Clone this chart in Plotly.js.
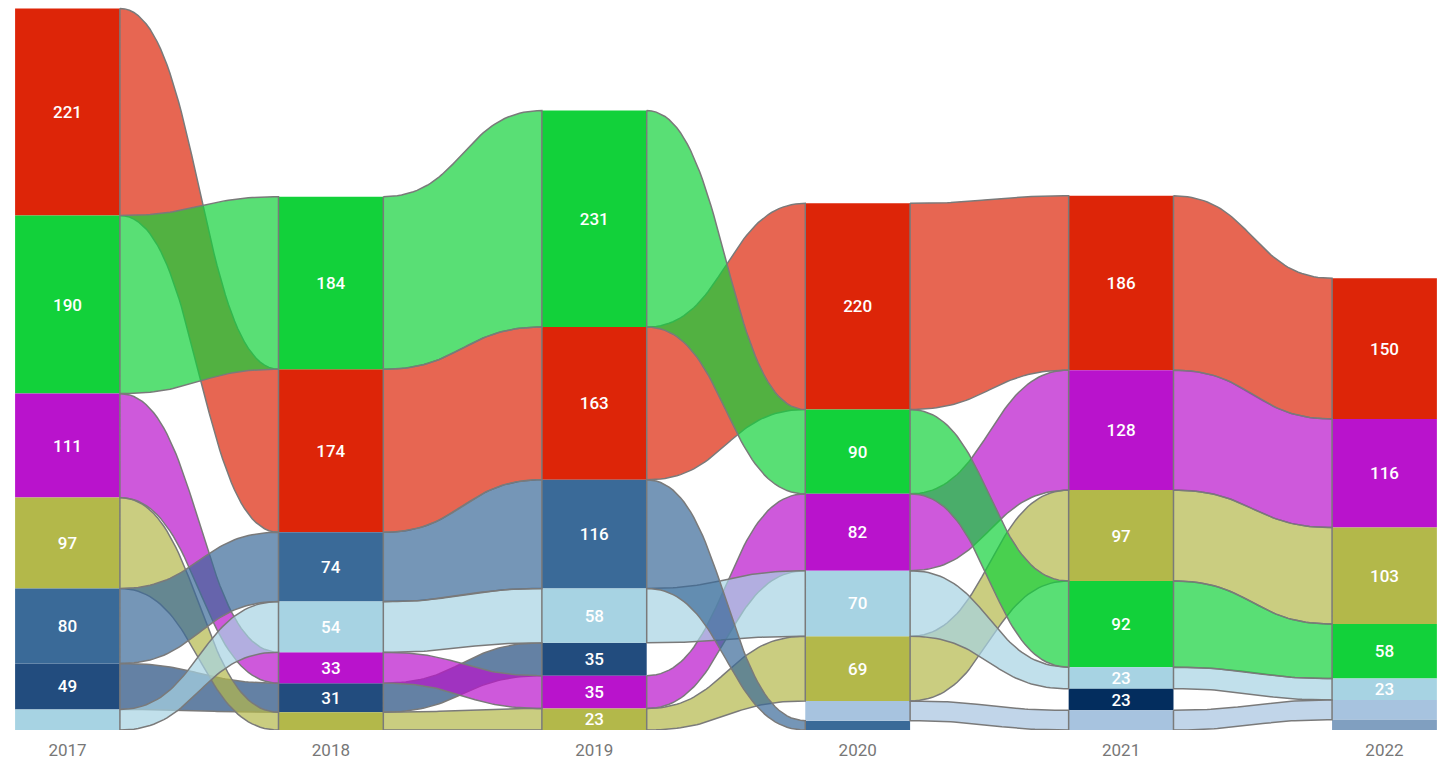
<!DOCTYPE html>
<html>
<head>
<meta charset="utf-8">
<script src="https://cdn.plot.ly/plotly-3.0.1.min.js"></script>
<style>html,body{margin:0;padding:0;background:#fff;}#chart{width:1445px;height:760px;}</style>
</head>
<body>
<div id="chart"></div>
<script>
// ---- data ----
const years = ['2017', '2018', '2019', '2020', '2021', '2022'];
// category order also resolves ties in stacking
const categories = ['Red', 'Green', 'Navy', 'Purple', 'Olive', 'Steel', 'LightBlue', 'DarkNavy', 'PaleBlue', 'GreyBlue'];
const red       = [221, 174, 163, 220, 186, 150];
const green     = [190, 184, 231, 90, 92, 58];
const navy      = [49, 31, 35, null, null, null];
const purple    = [111, 33, 35, 82, 128, 116];
const olive     = [97, 19, 23, 69, 97, 103];
const steel     = [80, 74, 116, 10, null, null];
const lightBlue = [22, 54, 58, 70, 23, 23];
const darkNavy  = [null, null, null, null, 23, null];
const paleBlue  = [null, null, null, 21, 21, 21];
const greyBlue  = [null, null, null, null, null, 11];
const seriesValues = [red, green, navy, purple, olive, steel, lightBlue, darkNavy, paleBlue, greyBlue];
const colors = ['#DD2508', '#12D13A', '#224C7E', '#B913CC', '#B3B84A', '#3A6A98', '#A7D3E3', '#032D5E', '#A7C3DF', '#809FC0'];
// ribbon drawing order (later = on top)
const ribbonOrder = ['Navy', 'Red', 'Olive', 'Purple', 'LightBlue', 'PaleBlue', 'Steel', 'Green'];

// ---- layout of columns (computed stacking) ----
const barW = 0.398;
const nY = years.length, nC = categories.length;
const bases = seriesValues.map(() => new Array(nY).fill(null));
for (let j = 0; j < nY; j++) {
  const idx = [];
  for (let c = 0; c < nC; c++) if (seriesValues[c][j] != null) idx.push(c);
  idx.sort((a, b) => seriesValues[b][j] - seriesValues[a][j] || a - b);
  let total = idx.reduce((s, c) => s + seriesValues[c][j], 0);
  let top = total;
  idx.forEach(c => { const v = seriesValues[c][j]; bases[c][j] = top - v; top -= v; });
}

function rgba(hex, a) {
  const n = parseInt(hex.slice(1), 16);
  return `rgba(${(n >> 16) & 255},${(n >> 8) & 255},${n & 255},${a})`;
}
function bez(p0, p1, p2, p3, t) {
  const u = 1 - t;
  return u*u*u*p0 + 3*u*u*t*p1 + 3*u*t*t*p2 + t*t*t*p3;
}

const traces = [];
// ribbons
ribbonOrder.forEach(name => {
  const c = categories.indexOf(name);
  const vals = seriesValues[c];
  for (let j = 0; j < nY - 1; j++) {
    if (vals[j] == null || vals[j + 1] == null) continue;
    const x0 = j + barW / 2, x1 = j + 1 - barW / 2, xm = (x0 + x1) / 2;
    const t0 = bases[c][j] + vals[j], b0 = bases[c][j];
    const t1 = bases[c][j + 1] + vals[j + 1], b1 = bases[c][j + 1];
    const xs = [], ys = [];
    const N = 48;
    for (let k = 0; k <= N; k++) {
      const t = k / N;
      xs.push(bez(x0, xm, xm, x1, t)); ys.push(bez(t0, t0, t1, t1, t));
    }
    for (let k = N; k >= 0; k--) {
      const t = k / N;
      xs.push(bez(x0, xm, xm, x1, t)); ys.push(bez(b0, b0, b1, b1, t));
    }
    xs.push(xs[0]); ys.push(ys[0]);
    traces.push({
      type: 'scatter', mode: 'lines', x: xs, y: ys, fill: 'toself',
      fillcolor: rgba(colors[c], 0.7),
      line: {color: '#7a7a7a', width: 1.5, shape: 'linear'},
      hoverinfo: 'skip', showlegend: false
    });
  }
});

// column segments
categories.forEach((name, c) => {
  const xs = [], ys = [], bs = [], txt = [];
  seriesValues[c].forEach((v, j) => {
    if (v == null) return;
    xs.push(j); ys.push(v); bs.push(bases[c][j]); txt.push(v >= 23 ? String(v) : '');
  });
  traces.push({
    type: 'bar', name: name, x: xs, y: ys, base: bs, width: barW,
    marker: {color: colors[c], line: {width: 0}},
    text: txt, textposition: 'inside', insidetextanchor: 'middle',
    textangle: 0, constraintext: 'none',
    textfont: {color: '#ffffff', size: 17, family: 'Roboto, sans-serif', weight: 500},
    hoverinfo: 'x+y+name', showlegend: false
  });
});

const layout = {
  width: 1445, height: 760,
  margin: {l: 0, r: 0, t: 0, b: 30},
  paper_bgcolor: '#ffffff', plot_bgcolor: '#ffffff',
  barmode: 'overlay',
  showlegend: false,
  uniformtext: {mode: 'show', minsize: 17},
  xaxis: {
    range: [-0.2563, 5.2298], tickvals: years.map((_, i) => i), ticktext: years,
    showgrid: false, zeroline: false, showline: false,
    ticks: 'outside', ticklen: 5, tickcolor: 'rgba(0,0,0,0)',
    tickfont: {family: 'Roboto, sans-serif', size: 17, color: '#777777'}
  },
  yaxis: {range: [0, 779], visible: false, fixedrange: true}
};

Plotly.newPlot('chart', traces, layout, {displayModeBar: false, staticPlot: true});
</script>
</body>
</html>
